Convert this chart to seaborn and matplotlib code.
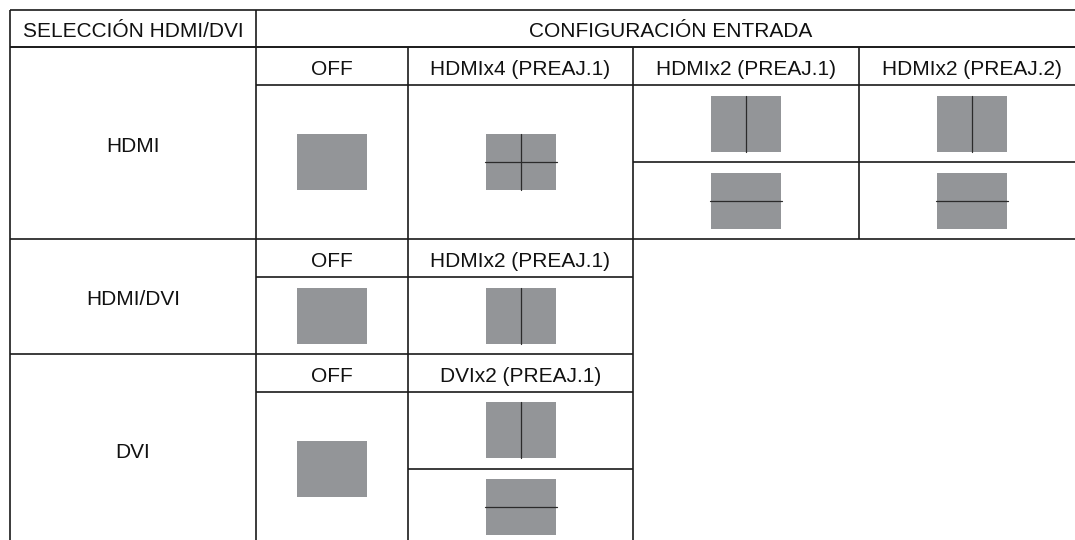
import matplotlib
matplotlib.use("Agg")
import matplotlib.pyplot as plt
import seaborn as sns
from matplotlib.patches import Rectangle

# table content
header_left = "SELECCIÓN HDMI/DVI"
header_right = "CONFIGURACIÓN ENTRADA"
sel_labels = ["HDMI", "HDMI/DVI", "DVI"]
config_labels = [
    ["OFF", "HDMIx4 (PREAJ.1)", "HDMIx2 (PREAJ.1)", "HDMIx2 (PREAJ.2)"],
    ["OFF", "HDMIx2 (PREAJ.1)"],
    ["OFF", "DVIx2 (PREAJ.1)"],
]
# screen layout icon per cell: full / quad / vsplit / split (= vsplit over hsplit)
config_icons = [
    ["full", "quad", "split", "split"],
    ["full", "vsplit"],
    ["full", "split"],
]

# layout (pixels, figure is 1075x540)
col_edges = [10, 256, 408, 633, 859, 1085]
top_y = 9.5
head_y = 47
sec_edges = [47, 239, 354, 545]
sub_h = 38
box_w, box_h = 70, 56
box_col = "#939598"
line_col = "#1a1a1a"

sns.set_theme(style="white")
plt.rcParams["font.family"] = ["Liberation Sans", "DejaVu Sans"]

fig = plt.figure(figsize=(10.75, 5.4), dpi=100)
ax = fig.add_axes([0, 0, 1, 1])
ax.set_xlim(0, 1075)
ax.set_ylim(540, 0)
ax.axis("off")

fs = 15
cap_half = 7.2  # half cap height in px at this size


def label(x, y, s):
    # y is where the middle of the capitals should sit
    ax.text(x, y + 1.5 + cap_half, s, ha="center", va="baseline",
            fontsize=fs, color="#111111")


def hline(y, x0, x1):
    ax.plot([x0, x1], [y, y], color=line_col, lw=1.2, solid_capstyle="butt")


def vline(x, y0, y1):
    ax.plot([x, x], [y0, y1], color=line_col, lw=1.2, solid_capstyle="butt")


def icon(cx, cy, kind):
    x0, y0 = cx - box_w / 2, cy - box_h / 2
    ax.add_patch(Rectangle((x0, y0), box_w, box_h, facecolor=box_col, edgecolor="none"))
    if kind in ("quad", "vsplit"):
        ax.plot([cx, cx], [y0, y0 + box_h], color="#2b2b2b", lw=0.9)
    if kind in ("quad", "hsplit"):
        ax.plot([x0 - 1, x0 + box_w + 1], [cy, cy], color="#2b2b2b", lw=0.9)


# header
hline(top_y, col_edges[0], col_edges[-1])
hline(head_y, col_edges[0], col_edges[-1])
vline(col_edges[0], top_y, sec_edges[-1])
vline(col_edges[1], top_y, sec_edges[-1])
label((col_edges[0] + col_edges[1]) / 2, (top_y + head_y) / 2, header_left)
label((col_edges[1] + col_edges[-1]) / 2, (top_y + head_y) / 2, header_right)

for i, sel in enumerate(sel_labels):
    y0, y1 = sec_edges[i], sec_edges[i + 1]
    n = len(config_labels[i])
    right = col_edges[n + 1]
    full_right = col_edges[-1] if i == 0 else col_edges[len(config_labels[i - 1]) + 1]
    hline(y0, col_edges[0], max(right, full_right))
    label((col_edges[0] + col_edges[1]) / 2, (y0 + y1) / 2, sel)
    ys = y0 + sub_h
    hline(ys, col_edges[1], right)
    for j, (lab, kind) in enumerate(zip(config_labels[i], config_icons[i])):
        xa, xb = col_edges[j + 1], col_edges[j + 2]
        vline(xb, y0, y1)
        cx = (xa + xb) / 2
        label(cx, y0 + sub_h / 2, lab)
        if kind == "split":
            ym = (ys + y1) / 2
            hline(ym, xa, xb)
            icon(cx, (ys + ym) / 2, "vsplit")
            icon(cx, (ym + y1) / 2, "hsplit")
        else:
            icon(cx, (ys + y1) / 2, kind)

fig.savefig("out.png", dpi=100)
